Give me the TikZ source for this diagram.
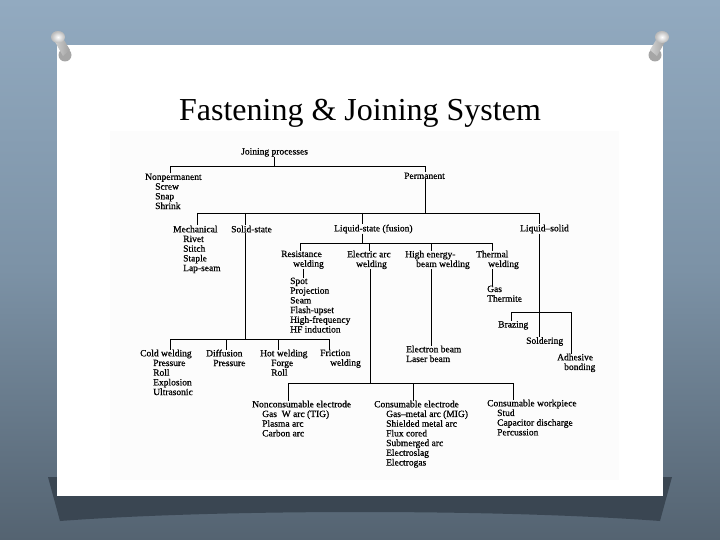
\documentclass[tikz,border=0pt]{standalone}
\usepackage{fontspec}
\setmainfont{Liberation Serif}
\newfontfamily\scanfont{Liberation Serif}[FakeBold=0.6]
\definecolor{bgTop}{RGB}{146,170,192}
\definecolor{bgMid}{RGB}{124,146,166}
\definecolor{bgBot}{RGB}{84,99,113}
\definecolor{shadowc}{RGB}{58,70,82}
\definecolor{scanbg}{RGB}{252,252,252}
\begin{document}
\begin{tikzpicture}[x=1pt,y=-1pt,
  lbl/.style={inner sep=0pt, font=\scanfont\fontsize{9.5}{9.7}\selectfont, align=left, anchor=north west, text=black},
  ln/.style={line width=0.85pt, black},
  pinhead/.style={inner color=white, outer color=gray!55},
  pinbody/.style={left color=gray!35, right color=gray!75}]
\useasboundingbox (0,0) rectangle (720,540);
% background
\shade[top color=bgTop, bottom color=bgBot, middle color=bgMid] (0,0) rectangle (720,540);
% paper shadow
\fill[shadowc] (48,477) -- (672,477) -- (660,521) .. controls (500,509) and (220,509) .. (60,521) -- cycle;
% paper
\fill[white] (57,45) rectangle (663,496);
% scanned figure area
\fill[scanbg] (110,131) rectangle (619,480);
% pins
\fill[black,opacity=0.35] (65,55) circle (6.5);
\shade[pinbody] (54,40) -- (61,35) -- (70,50) -- (63,56) -- cycle;
\shade[pinhead] (58,37) ellipse (7 and 6);
\fill[black,opacity=0.35] (655,55) circle (6.5);
\shade[pinbody] (666,40) -- (659,35) -- (650,50) -- (657,56) -- cycle;
\shade[pinhead] (662,37) ellipse (7 and 6);
% title
\node[inner sep=0pt, anchor=base, font=\fontsize{32}{36}\selectfont] (title) at (360,121) {Fastening \& Joining System};

% nodes
\node[lbl] (jp) at (241,148) {Joining processes};
\node[lbl] (np) at (145,173.5) {Nonpermanent\\\hspace*{10pt}Screw\\\hspace*{10pt}Snap\\\hspace*{10pt}Shrink};
\node[lbl] (perm) at (404,172.5) {Permanent};
\node[lbl] (mech) at (173,225.5) {Mechanical\\\hspace*{10pt}Rivet\\\hspace*{10pt}Stitch\\\hspace*{10pt}Staple\\\hspace*{10pt}Lap-seam};
\node[lbl] (solid) at (231,225.5) {Solid-state};
\node[lbl] (liq) at (334,224.5) {Liquid-state (fusion)};
\node[lbl] (ls) at (520,224.5) {Liquid–solid};
\node[lbl] (res) at (281,250.5) {Resistance\\\hspace*{12pt}welding};
\node[lbl] (ea) at (347,250.5) {Electric arc\\\hspace*{9pt}welding};
\node[lbl] (he) at (405,250.5) {High energy-\\\hspace*{11pt}beam welding};
\node[lbl] (th) at (476,250.5) {Thermal\\\hspace*{12pt}welding};
\node[lbl] (reslist) at (290,277.5) {Spot\\Projection\\Seam\\Flash-upset\\High-frequency\\HF induction};
\node[lbl] (helist) at (406,345.5) {Electron beam\\Laser beam};
\node[lbl] (thlist) at (487,285.5) {Gas\\Thermite};
\node[lbl] (braz) at (498,321) {Brazing};
\node[lbl] (sold) at (526,337) {Soldering};
\node[lbl] (adh) at (557,353.5) {Adhesive\\\hspace*{7pt}bonding};
\node[lbl] (cold) at (140,349.5) {Cold welding\\\hspace*{13pt}Pressure\\\hspace*{13pt}Roll\\\hspace*{13pt}Explosion\\\hspace*{13pt}Ultrasonic};
\node[lbl] (diff) at (206,349.5) {Diffusion\\\hspace*{7pt}Pressure};
\node[lbl] (hot) at (260,349.5) {Hot welding\\\hspace*{11pt}Forge\\\hspace*{11pt}Roll};
\node[lbl] (fric) at (320,349.5) {Friction\\\hspace*{10pt}welding};
\node[lbl] (nce) at (252,400.5) {Nonconsumable electrode\\\hspace*{10pt}Gas~ W arc (TIG)\\\hspace*{10pt}Plasma arc\\\hspace*{10pt}Carbon arc};
\node[lbl] (ce) at (374,400.5) {Consumable electrode\\\hspace*{12pt}Gas–metal arc (MIG)\\\hspace*{12pt}Shielded metal arc\\\hspace*{12pt}Flux cored\\\hspace*{12pt}Submerged arc\\\hspace*{12pt}Electroslag\\\hspace*{12pt}Electrogas};
\node[lbl] (cw) at (487,399.5) {Consumable workpiece\\\hspace*{10pt}Stud\\\hspace*{10pt}Capacitor discharge\\\hspace*{10pt}Percussion};

% junction coordinates
\coordinate (jL) at (170,166); \coordinate (jR) at (425,166);
\coordinate (p1) at (197,213); \coordinate (p2) at (245,213);
\coordinate (p3) at (362,213); \coordinate (p4) at (539,213);
\coordinate (l1) at (300,243); \coordinate (l2) at (369,243);
\coordinate (l3) at (431,243); \coordinate (l4) at (492,243);
\coordinate (x303) at (303,0);
\coordinate (e1) at (288,383); \coordinate (e2) at (413,383); \coordinate (e3) at (513,383);
\coordinate (b1) at (511,312); \coordinate (b2) at (571,312);
\coordinate (s1) at (170,339); \coordinate (s2) at (226,339);
\coordinate (s3) at (278,339); \coordinate (s4) at (329,339);

% connectors
\draw[ln] (jp.south) -- (jp.south |- jL);
\draw[ln] (np.north -| jL) -- (jL) -- (jR) -- (perm.north -| jR);
\draw[ln] (perm.south -| jR) -- (jR |- p1);
\draw[ln] (p1) -- (p4);
\draw[ln] (p1) -- (p1 |- mech.north);
\draw[ln] (p2) -- (p2 |- solid.north);
\draw[ln] (p3) -- (p3 |- liq.north);
\draw[ln] (p4) -- (p4 |- ls.north);
\draw[ln] (p2 |- solid.south) -- (p2 |- s1);
\draw[ln] (s1) -- (s4);
\draw[ln] (s1) -- (s1 |- cold.north);
\draw[ln] (s2) -- (s2 |- diff.north);
\draw[ln] (s3) -- (s3 |- hot.north);
\draw[ln] (s4) -- (s4 |- fric.north);
\draw[ln] (p3 |- liq.south) -- (p3 |- l1);
\draw[ln] (l1) -- (l4);
\draw[ln] (l1) -- (l1 |- res.north);
\draw[ln] (l2) -- (l2 |- ea.north);
\draw[ln] (l3) -- (l3 |- he.north);
\draw[ln] (l4) -- (l4 |- th.north);
\draw[ln] (x303 |- res.south) -- (x303 |- reslist.north);
\draw[ln] ([xshift=1pt]l2 |- ea.south) -- ([xshift=1pt]l2 |- e1);
\draw[ln] (e1) -- (e3);
\draw[ln] (e1) -- (e1 |- nce.north);
\draw[ln] (e2) -- (e2 |- ce.north);
\draw[ln] (e3) -- (e3 |- cw.north);
\draw[ln] (l3 |- he.south) -- (l3 |- helist.north);
\draw[ln] (l4 |- th.south) -- (l4 |- thlist.north);
\draw[ln] (p4 |- ls.south) -- (p4 |- sold.north);
\draw[ln] (b1) -- (b2);
\draw[ln] (b1) -- (b1 |- braz.north);
\draw[ln] (b2) -- (b2 |- adh.north);
\end{tikzpicture}
\end{document}
